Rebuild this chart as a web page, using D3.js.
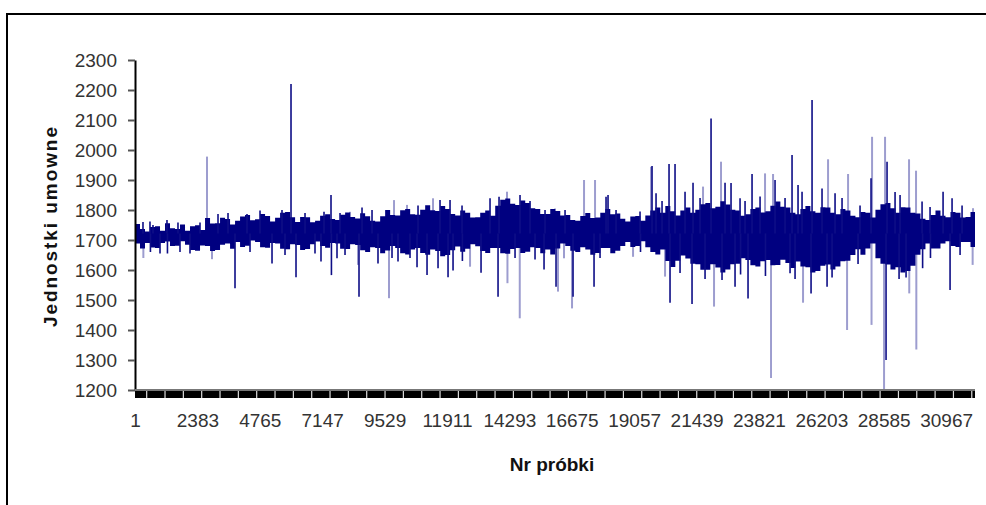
<!DOCTYPE html>
<html>
<head>
<meta charset="utf-8">
<script src="https://cdn.jsdelivr.net/npm/d3@7"></script>
<style>
  html, body { margin: 0; padding: 0; background: #fff; }
  svg { display: block; }
  text { font-family: "Liberation Sans", Arial, sans-serif; }
</style>
</head>
<body>
<svg id="chart" width="986" height="505"></svg>
<script>
// ---------- data ----------
const sampleCount = 32070;            // number of samples on the category axis
const blockSize = 191;                // samples per envelope block
const yTicks = [1200, 1300, 1400, 1500, 1600, 1700, 1800, 1900, 2000, 2100, 2200, 2300];
const xTickValues = [1, 2383, 4765, 7147, 9529, 11911, 14293, 16675, 19057, 21439, 23821, 26203, 28585, 30967];
const xTickLabels = ["1", "2383", "4765", "7147", "9529", "11911", "14293", "16675", "19057", "21439", "23821", "26203", "28585", "30967"];
const yTitle = "Jednostki umowne";
const xTitle = "Nr próbki";

// dense core of the signal: upper / lower envelope per block
const bandHi = [
  1753,1737,1728,1743,1746,1731,1756,1739,1737,1752,1731,1746,1749,1733,1773,1755,1756,1774,1770,1752,
  1764,1778,1783,1766,1769,1787,1780,1762,1774,1791,1793,1776,1760,1777,1776,1759,1764,1781,1786,1770,
  1767,1784,1792,1777,1772,1789,1779,1764,1762,1779,1800,1783,1782,1799,1803,1786,1784,1801,1816,1799,
  1797,1813,1803,1787,1782,1798,1791,1775,1776,1791,1798,1781,1814,1834,1838,1821,1817,1832,1823,1806,
  1803,1787,1787,1803,1797,1782,1783,1767,1764,1780,1790,1773,1775,1791,1803,1786,1788,1771,1762,1778,
  1780,1764,1782,1798,1808,1791,1813,1796,1782,1798,1808,1791,1801,1819,1823,1806,1811,1829,1818,1801,
  1798,1781,1786,1803,1808,1792,1796,1814,1828,1811,1808,1791,1786,1803,1813,1796,1791,1809,1808,1791,
  1786,1803,1798,1781,1776,1793,1791,1775,1801,1819,1823,1806,1791,1809,1808,1791,1788,1771,1767,1783,
  1798,1781,1776,1793,1791,1775,1777,1793];
const bandLo = [
  1688,1672,1690,1675,1673,1690,1695,1680,1681,1696,1684,1667,1664,1682,1680,1663,1667,1684,1688,1671,
  1693,1677,1681,1698,1693,1676,1674,1690,1688,1671,1669,1686,1683,1667,1670,1686,1695,1680,1674,1690,
  1688,1671,1670,1686,1683,1666,1660,1676,1673,1656,1665,1680,1673,1656,1652,1668,1673,1657,1651,1668,
  1663,1646,1650,1666,1678,1661,1671,1686,1679,1663,1657,1673,1673,1656,1654,1670,1673,1657,1661,1676,
  1673,1656,1668,1652,1672,1688,1680,1664,1660,1676,1668,1651,1657,1673,1673,1656,1664,1680,1693,1677,
  1680,1696,1676,1660,1652,1668,1630,1610,1631,1648,1638,1621,1619,1601,1601,1619,1608,1592,1602,1619,
  1621,1639,1633,1616,1612,1629,1633,1616,1617,1634,1623,1607,1628,1612,1609,1592,1597,1614,1618,1602,
  1612,1629,1631,1650,1669,1651,1672,1688,1639,1621,1618,1602,1609,1592,1597,1614,1651,1669,1688,1672,
  1672,1688,1696,1680,1677,1693,1693,1677];

// excursions beyond the dense core: [sample number, value]
const spikes = [
  [306,1760],[688,1750],[1222,1767],[3170,1787],[4277,1787],[5957,2220],[7217,1794],
  [7484,1850],[7828,1790],[11646,1833],[12028,1833],[13555,1839],[13899,1844],[14700,1850],
  [15655,1800],[17984,1844],[18060,1850],[19740,1947],[19893,1856],[20389,1953],[20618,1953],
  [21000,1861],[21305,1891],[21993,2105],[22527,1891],[22756,1890],[23100,1839],[23558,1920],
  [24436,1900],[25085,1983],[25314,1883],[25467,1861],[25849,2167],[26230,1872],[26727,1856],
  [28101,1906],[28712,1961],[29018,1860],[30049,1828],[30851,1861],[31194,1839],
  [573,1762],[1642,1758],[2483,1758],[3552,1790],[4774,1798],[5613,1800],[6492,1790],
  [8668,1808],[9050,1800],[10806,1815],[12486,1815],[15082,1830],[16419,1800],[18366,1800],
  [19282,1795],[20122,1830],[21573,1840],[23291,1830],[23864,1845],[24818,1840],[26994,1840],
  [27681,1815],[29209,1850],[30354,1810],[31576,1815],
  [956,1655],[1240,1655],[1719,1660],[3819,1539],[5232,1622],[6148,1576],[7102,1628],
  [7500,1583],[7713,1639],[8553,1511],[9278,1622],[10042,1628],[10768,1609],[11150,1583],
  [11570,1606],[11952,1576],[12143,1598],[13212,1591],[13861,1511],[15617,1602],[16075,1544],
  [16724,1511],[17526,1544],[20427,1491],[21267,1487],[22412,1567],[22909,1544],[23405,1505],
  [25009,1589],[25811,1522],[26422,1544],[28674,1300],[30070,1606],[31118,1533],
  [590,1660],[2101,1655],[4392,1660],[5728,1650],[6873,1655],[8019,1650],[9813,1640],
  [10500,1640],[12500,1630],[14510,1640],[15273,1635],[17755,1640],[19300,1660],[20809,1590],
  [21764,1570],[23120,1585],[24070,1580],[25200,1570],[26613,1575],[27605,1620],[29171,1570],
  [29438,1575],[30370,1640],[31500,1650]
];
// single-sample excursions (drawn thinner / fainter in the original)
const isolatedSpikes = [
  [2750,1978],[8210,1794],[9890,1833],[10386,1817],[11379,1839],[14204,1861],[16036,1805],
  [17144,1900],[17564,1900],[19702,1944],[21687,1878],[22374,1961],[24054,1922],[24360,1920],
  [26460,1969],[27224,1920],[28140,2044],[28636,2044],[29552,1969],[29819,1931],[31995,1806],
  [320,1640],[2941,1636],[8515,1617],[9699,1506],[12792,1611],[14220,1556],[14690,1439],
  [16151,1528],[16380,1639],[16686,1472],[19015,1644],[20237,1578],[22107,1478],[24283,1240],
  [25505,1491],[27186,1400],[28120,1417],[28598,1200],[29560,1522],[29830,1335],[31980,1617]
];
const baseLevel = 1722;

// ---------- drawing ----------
const svg = d3.select("#chart");
const navy = "#000080";
const fontFamily = "'Liberation Sans', Arial, sans-serif";

const x = d3.scaleLinear().domain([1, sampleCount]).range([135, 975]);
const y = d3.scaleLinear().domain([1200, 2300]).range([390, 60]);

// outer frame
svg.append("path")
  .attr("d", "M7,506 L7,14 L987,14")
  .attr("fill", "none").attr("stroke", "#000").attr("stroke-width", 2);

// faint spikes
svg.append("g").selectAll("line").data(isolatedSpikes).join("line")
  .attr("x1", d => x(d[0])).attr("x2", d => x(d[0]))
  .attr("y1", y(baseLevel)).attr("y2", d => y(d[1]))
  .attr("stroke", "#9d9dcf").attr("stroke-width", 2);

// dense band
const bandData = bandHi.map((h, i) => ({s: 1 + i * blockSize, hi: h, lo: bandLo[i]}));
bandData.push({s: sampleCount, hi: bandHi[bandHi.length - 1], lo: bandLo[bandLo.length - 1]});
svg.append("path")
  .datum(bandData)
  .attr("fill", navy)
  .attr("d", d3.area().curve(d3.curveStepAfter)
    .x(d => x(d.s)).y0(d => y(d.lo)).y1(d => y(d.hi)));

// strong spikes
svg.append("g").selectAll("line").data(spikes).join("line")
  .attr("x1", d => x(d[0])).attr("x2", d => x(d[0]))
  .attr("y1", y(baseLevel)).attr("y2", d => y(d[1]))
  .attr("stroke", "#0e0e86").attr("stroke-width", 1.6);

// y axis
const yAxis = svg.append("g").attr("transform", "translate(135,0)")
  .call(d3.axisLeft(y).tickValues(yTicks).tickFormat(d3.format("d"))
    .tickSize(7).tickSizeOuter(0).tickPadding(11));
yAxis.select(".domain").attr("stroke", "#000").attr("stroke-width", 2);
yAxis.selectAll(".tick line").attr("stroke", "#555").attr("stroke-width", 2);
yAxis.selectAll(".tick text")
  .attr("fill", "#333").style("font-size", "19px").style("font-family", fontFamily);

// x axis: dense category tick band
const xAxisG = svg.append("g");
xAxisG.append("line")
  .attr("x1", x(1)).attr("x2", x(sampleCount))
  .attr("y1", y(1200)).attr("y2", y(1200))
  .attr("stroke", "#777").attr("stroke-width", 2);
xAxisG.append("rect")
  .attr("x", x(1)).attr("y", y(1200) + 1)
  .attr("width", x(sampleCount) - x(1)).attr("height", 7)
  .attr("fill", "#000");
xAxisG.selectAll(".gap").data(d3.range(447, sampleCount, 700)).join("line")
  .attr("class", "gap")
  .attr("x1", d => x(d)).attr("x2", d => x(d))
  .attr("y1", y(1200) + 1).attr("y2", y(1200) + 8)
  .attr("stroke", "#ddd").attr("stroke-width", 1.2);

const xAxis = svg.append("g").attr("transform", `translate(0,${y(1200)})`)
  .call(d3.axisBottom(x).tickValues(xTickValues)
    .tickFormat((d, i) => xTickLabels[i]).tickSize(0).tickPadding(24));
xAxis.select(".domain").remove();
xAxis.selectAll(".tick text")
  .attr("fill", "#333").style("font-size", "19px").style("font-family", fontFamily);

// titles
svg.append("text")
  .attr("transform", "translate(57,227) rotate(-90)")
  .attr("text-anchor", "middle")
  .attr("font-weight", "bold").attr("font-size", 19)
  .attr("textLength", 200).attr("lengthAdjust", "spacing")
  .attr("fill", "#111")
  .text(yTitle);
svg.append("text")
  .attr("x", 552).attr("y", 471)
  .attr("text-anchor", "middle")
  .attr("font-weight", "bold").attr("font-size", 19)
  .attr("fill", "#111")
  .text(xTitle);
</script>
</body>
</html>
